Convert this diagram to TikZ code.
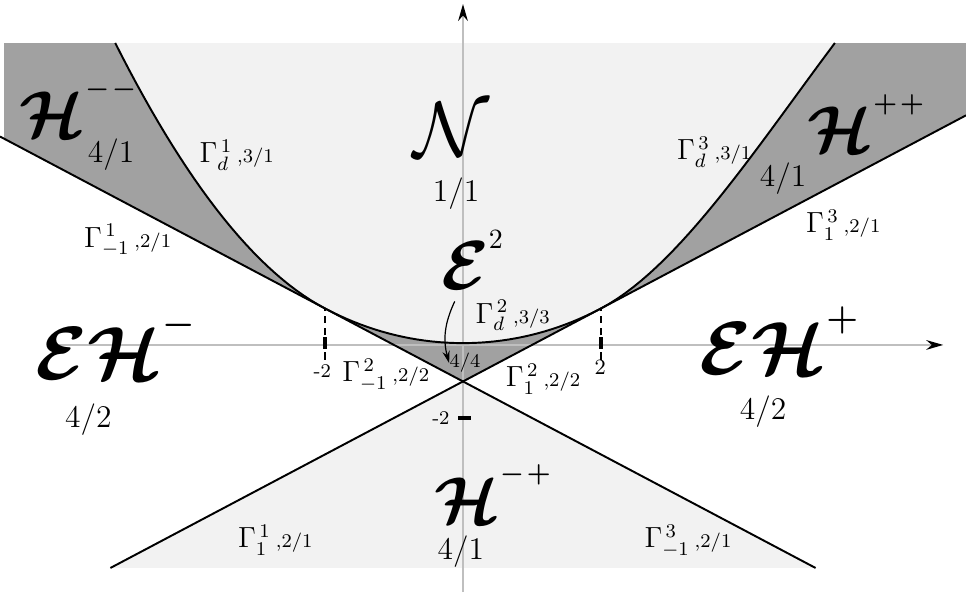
\documentclass[tikz,border=0pt]{standalone}
\usepackage{amsmath,amssymb,bm}
\usetikzlibrary{arrows.meta}

\definecolor{lightfill}{gray}{0.95}
\definecolor{darkfill}{gray}{0.63}
\definecolor{axisgray}{gray}{0.75}

% region names: bold script letter with a raised sign
\newcommand{\regname}[2]{{\Huge$\bm{\mathcal{#1}}$}\raisebox{15.5pt}{\normalsize$\bm{#2}$}}
\newcommand{\gam}[3]{$\Gamma_{#1}^{\,#2}\,{\scriptstyle,#3}$}

\begin{document}
\begin{tikzpicture}[x=1cm,y=0.529cm,
  declare function={
    fin(\t)=0.05+0.225*\t*\t+0.003125*\t*\t*\t*\t;
    fleft(\t)=1+(-(\t)-2)+0.468*(-(\t)-2)^2-0.0033*(-(\t)-2)^3;
    fright(\t)=1+((\t)-2)+0.565*((\t)-2)^2-0.067*((\t)-2)^3;
  },
  lab/.style={anchor=base,inner sep=0pt},
  ratio/.style={lab,font=\fontsize{13}{15}\selectfont},
  gamlab/.style={lab,font=\large},
  bound/.style={line width=0.8pt,black},
  axisline/.style={axisgray,line width=0.8pt,-{Stealth[color=black,length=7pt,width=4pt]}},
  guide/.style={densely dashed,line width=0.5pt},
  tickmark/.style={line width=1.5pt}]

\useasboundingbox (-6.71,-6.77) rectangle (7.29,9.45);

% Shaded regions
\fill[darkfill] (-6.65,8.27) -- (-6.65,5.65) -- (0,-1) -- (7.29,6.29) -- (7.29,8.27) -- cycle;
\fill[lightfill] (-5.04,8.27)
  -- plot[domain=-5.04:-2,samples=30] (\x,{fleft(\x)})
  -- plot[domain=-2:2,samples=40] (\x,{fin(\x)})
  -- plot[domain=2:5.39,samples=30] (\x,{fright(\x)})
  -- (5.39,8.27) -- cycle;
\fill[lightfill] (-5.11,-6.11) -- (0,-1) -- (5.11,-6.11) -- cycle;

% Axes
\draw[axisline] (-5.85,0) -- (6.96,0);
\draw[axisline] (0,-6.77) -- (0,9.34);

% Boundaries
\draw[bound] (-6.71,5.71) -- (0,-1) -- (5.11,-6.11);
\draw[bound] (-5.11,-6.11) -- (0,-1) -- (7.29,6.29);
\draw[bound] plot[domain=-5.04:-2,samples=30] (\x,{fleft(\x)})
  -- plot[domain=-2:2,samples=40] (\x,{fin(\x)})
  -- plot[domain=2:5.39,samples=30] (\x,{fright(\x)});

% Ticks
\draw[guide] (-2,-0.4) -- (-2,1);
\draw[guide] (2,-0.4) -- (2,1);
\draw[tickmark] (-2,-0.1) -- (-2,0.22);
\draw[tickmark] (2,-0.1) -- (2,0.22);
\draw[tickmark] (-0.07,-2) -- (0.12,-2);
\node[lab,font=\footnotesize] (xmtwo) at (-2.04,-0.88) {-2};
\node[lab,font=\small] (xtwo) at (1.99,-0.82) {2};
\node[lab,font=\footnotesize] (ymtwo) at (-0.32,-2.19) {-2};

% Upper regions
\node[lab,scale=1.1] (Hmm) at (-5.58,5.67) {\regname{H}{{-}\mkern2mu{-}}};
\node[ratio] (Hmmr) at (-5.10,4.99) {4/1};
\node[gamlab] (gdone) at (-3.28,4.99) {\gam{d}{1}{3/1}};
\node[lab,scale=1.3] (N) at (-0.16,5.15) {\Huge$\mathcal{N}$};
\node[ratio] (Nr) at (-0.10,3.92) {1/1};
\node[gamlab] (gdthree) at (3.64,5.07) {\gam{d}{3}{3/1}};
\node[lab,scale=1.1] (Hpp) at (5.84,5.26) {\regname{H}{{+}\mkern2mu{+}}};
\node[ratio] (Hppr) at (4.64,4.33) {4/1};
\node[gamlab] (gmone) at (-4.86,2.68) {\gam{-1}{1}{2/1}};
\node[gamlab] (gonethree) at (5.51,3.07) {\gam{1}{3}{2/1}};

% Middle
\node[lab,scale=1.15] (E2) at (0.13,1.51) {{\Huge$\bm{\mathcal{E}}$}\raisebox{14.8pt}{\normalsize 2}};
\node[lab,font=\footnotesize] (Er) at (0.03,-0.63) {4/4};
\draw[-{Stealth[length=5pt,width=3pt]},line width=0.5pt] ([xshift=-0.25cm,yshift=-0.16cm]E2.south) to[bend right=20] (Er.west);
\node[gamlab] (gdtwo) at (0.72,0.60) {\gam{d}{2}{3/3}};
\node[gamlab] (gmtwo) at (-1.12,-1.01) {\gam{-1}{2}{2/2}};
\node[gamlab] (gonetwo) at (1.16,-1.15) {\gam{1}{2}{2/2}};

% Side regions
\node[lab,scale=1.25] (EHm) at (-5.04,-0.96) {{\Huge$\bm{\mathcal{E}\mathcal{H}}$}\raisebox{15pt}{\large$\bm{-}$}};
\node[ratio] (EHmr) at (-5.43,-2.25) {4/2};
\node[lab,scale=1.25] (EHp) at (4.58,-0.82) {{\Huge$\bm{\mathcal{E}\mathcal{H}}$}\raisebox{15pt}{\large$\bm{+}$}};
\node[ratio] (EHpr) at (4.35,-2.05) {4/2};

% Lower region
\node[lab,scale=1.1] (Hmp) at (0.43,-4.88) {\regname{H}{{-}\mkern2mu{+}}};
\node[ratio] (Hmpr) at (-0.03,-5.89) {4/1};
\node[gamlab] (goneone) at (-2.72,-5.56) {\gam{1}{1}{2/1}};
\node[gamlab] (gmthree) at (3.26,-5.56) {\gam{-1}{3}{2/1}};

\end{tikzpicture}
\end{document}
